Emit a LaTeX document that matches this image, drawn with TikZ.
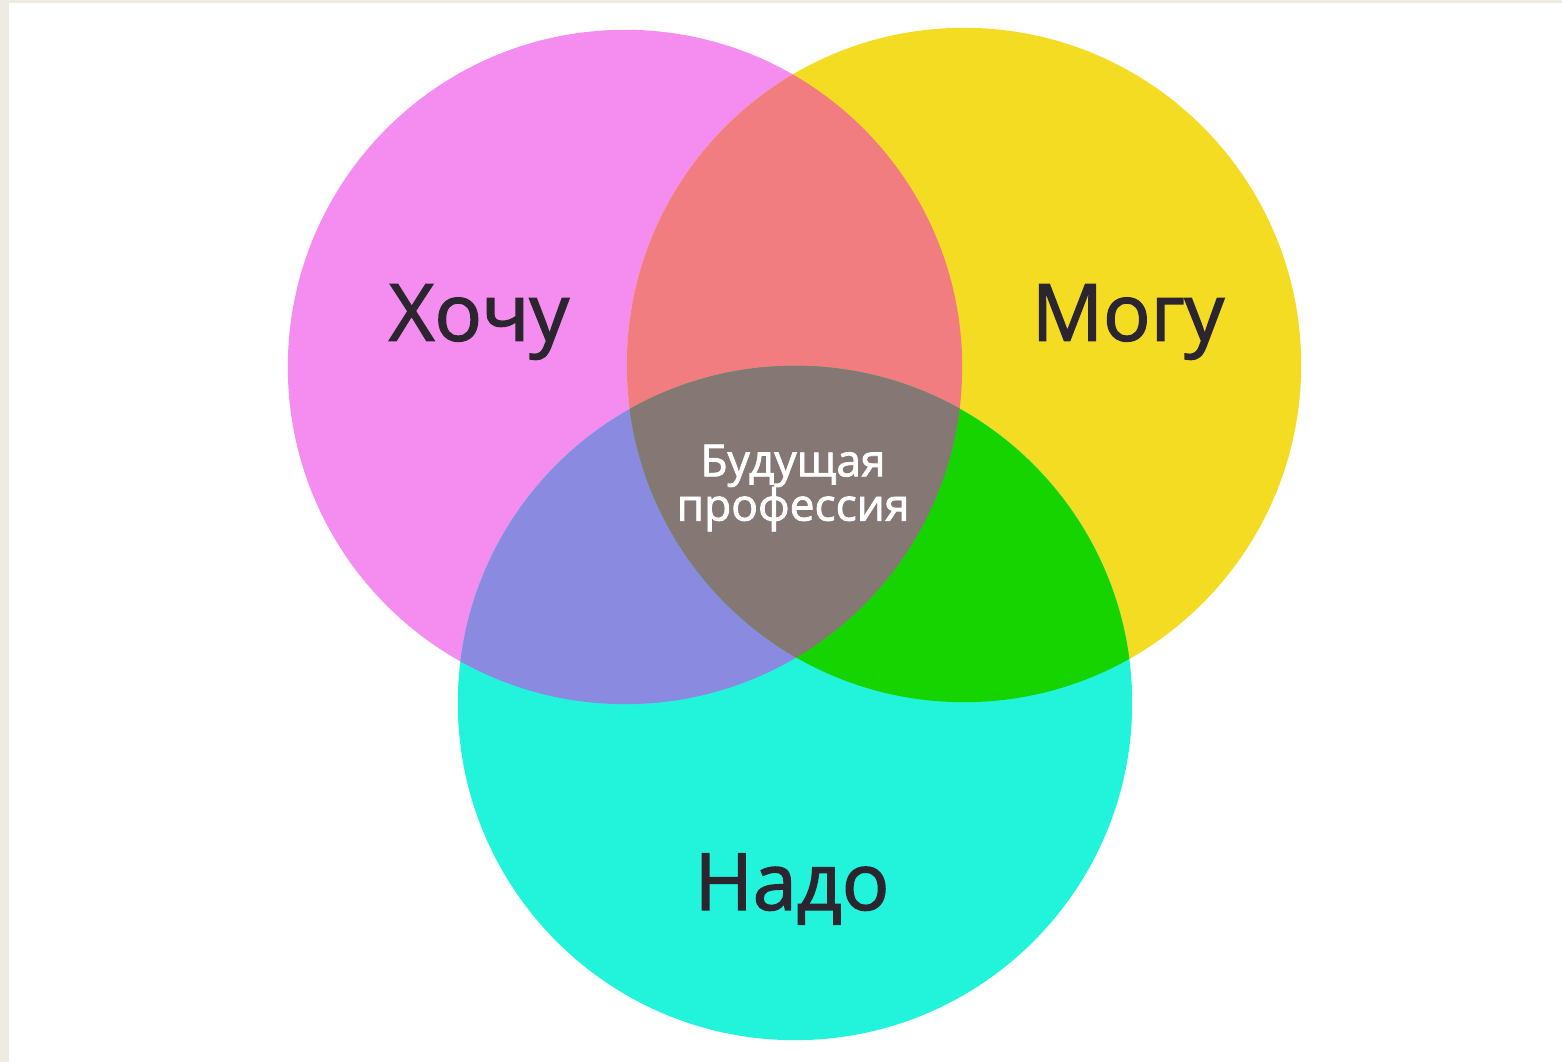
\documentclass[tikz,border=0pt]{standalone}
\usepackage{fontspec}
\setmainfont{Open Sans}
\newfontfamily\circlefont{Open Sans}[RawFeature={embolden=1.8}]
\usepackage{tikz}
\usetikzlibrary{positioning}

\definecolor{wantpink}{HTML}{F58CF0}
\definecolor{canyellow}{HTML}{F4DC22}
\definecolor{needcyan}{HTML}{22F4DC}
\definecolor{wantcan}{HTML}{F27D80}
\definecolor{wantneed}{HTML}{8A8BE0}
\definecolor{canneed}{HTML}{16D400}
\definecolor{allthree}{HTML}{857874}
\definecolor{labelink}{HTML}{2B2530}
\definecolor{pagebeige}{HTML}{EEEBE3}

\begin{document}
\begin{tikzpicture}[x = 0.01in, y = 0.01in]
\useasboundingbox (0,0) rectangle (1562,1062);
\fill[pagebeige] (0,0) rectangle (1562,1062);
\fill[white] (9,0) rectangle (1562,1059);
\fill[wantpink] (625,695) circle (3.37in);
\fill[canyellow] (964,697) circle (3.37in);
\fill[needcyan] (795,359) circle (3.37in);
\begin{scope}
\clip (625,695) circle (3.37in);
\fill[wantcan] (964,697) circle (3.37in);
\fill[wantneed] (795,359) circle (3.37in);
\end{scope}
\begin{scope}
\clip (964,697) circle (3.37in);
\fill[canneed] (795,359) circle (3.37in);
\clip (795,359) circle (3.37in);
\fill[allthree] (625,695) circle (3.37in);
\end{scope}
\node[text = labelink, font = \circlefont\fontsize{57}{60}\selectfont] (hochu) at (479,740) {Хочу};
\node[text = labelink, font = \circlefont\fontsize{57}{60}\selectfont] (mogu) at (1128,740) {Могу};
\node[text = labelink, font = \circlefont\fontsize{57}{60}\selectfont] (nado) at (792,173) {Надо};
\node[align=center, text = white, font = \circlefont\fontsize{32}{32}\selectfont] (prof) at (793,574) {Будущая\\профессия};
\end{tikzpicture}
\end{document}
